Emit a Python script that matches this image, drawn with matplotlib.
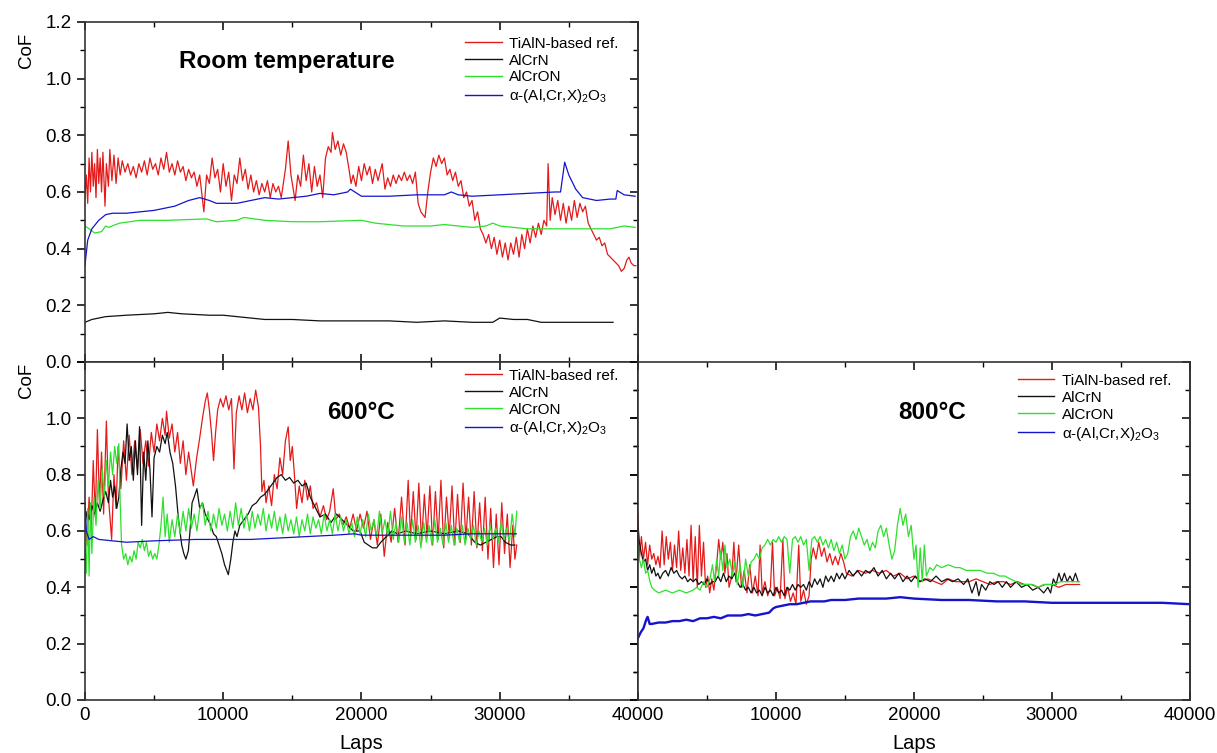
import matplotlib
matplotlib.use("Agg")
import matplotlib.pyplot as plt
import numpy as np
from matplotlib.ticker import MultipleLocator

plt.rcParams['font.family'] = ['Liberation Sans', 'DejaVu Sans']
plt.rcParams['mathtext.fontset'] = 'custom'
plt.rcParams['mathtext.rm'] = 'Liberation Sans'
plt.rcParams['mathtext.it'] = 'Liberation Sans:italic'

labels = ['TiAlN-based ref.', 'AlCrN', 'AlCrON', r'α-(Al,Cr,X)$_2$O$_3$']
colors = ['#e41a1a', '#111111', '#2ee02e', '#1414cc']

# ---- room temperature (laps, CoF) ----
rt_tialn = [(0, .58), (100, .66), (200, .56), (300, .72), (400, .60), (500, .74), (600, .62), (700, .70),
            (800, .58), (900, .75), (1000, .63), (1100, .72), (1200, .60), (1300, .74), (1450, .55), (1550, .70),
            (1700, .62), (1800, .75), (1950, .64), (2100, .73), (2250, .63), (2400, .72), (2550, .66), (2700, .71),
            (2900, .67), (3100, .70), (3300, .66), (3500, .69), (3700, .65), (3900, .70), (4100, .67), (4300, .71),
            (4500, .66), (4700, .72), (4900, .68), (5100, .70), (5300, .66), (5500, .72), (5700, .68), (5900, .74),
            (6100, .67), (6300, .70), (6500, .66), (6700, .71), (6900, .67), (7100, .69), (7300, .64), (7500, .68),
            (7700, .65), (7900, .67), (8100, .62), (8300, .66), (8600, .53), (8800, .66), (9000, .63), (9200, .72),
            (9400, .65), (9600, .68), (9800, .60), (10000, .70), (10200, .62), (10400, .67), (10600, .57), (10800, .66),
            (11000, .63), (11200, .72), (11400, .64), (11600, .68), (11800, .61), (12000, .66), (12200, .60), (12400, .64),
            (12600, .59), (12800, .63), (13000, .60), (13200, .64), (13400, .58), (13600, .63), (13800, .60), (14000, .62),
            (14200, .58), (14500, .68), (14700, .78), (14900, .66), (15200, .57), (15400, .66), (15600, .62), (15800, .73),
            (16000, .64), (16200, .70), (16400, .60), (16600, .69), (16800, .62), (17000, .66), (17200, .58), (17400, .72),
            (17600, .76), (17800, .74), (17900, .81), (18100, .75), (18300, .78), (18500, .73), (18700, .77), (18900, .74),
            (19100, .68), (19250, .63), (19400, .66), (19600, .62), (19800, .69), (20000, .64), (20200, .70), (20400, .66),
            (20600, .69), (20800, .63), (21000, .68), (21200, .64), (21500, .70), (21700, .61), (21900, .65), (22100, .62),
            (22300, .66), (22500, .63), (22700, .66), (22900, .64), (23100, .67), (23300, .64), (23500, .66), (23700, .63),
            (23900, .67), (24100, .56), (24300, .53), (24600, .51), (24800, .60), (25000, .67), (25200, .72), (25400, .69),
            (25600, .73), (25800, .70), (26000, .72), (26200, .66), (26400, .68), (26600, .64), (26800, .67), (27000, .62),
            (27200, .64), (27400, .58), (27600, .60), (27800, .55), (28000, .57), (28200, .50), (28400, .53), (28600, .47),
            (28800, .45), (29000, .42), (29200, .45), (29400, .40), (29600, .44), (29800, .38), (30000, .43), (30200, .37),
            (30400, .42), (30600, .36), (30800, .42), (31000, .38), (31200, .44), (31400, .37), (31600, .45), (31800, .40),
            (32000, .47), (32200, .42), (32400, .48), (32600, .44), (32800, .49), (33000, .45), (33200, .50), (33400, .48),
            (33500, .70), (33650, .50), (33800, .58), (34000, .52), (34200, .57), (34400, .50), (34600, .56), (34800, .49),
            (35000, .55), (35200, .50), (35400, .57), (35600, .51), (35800, .56), (36000, .53), (36200, .55), (36400, .49),
            (36600, .47), (36800, .45), (37000, .43), (37200, .44), (37400, .41), (37600, .42), (37800, .38), (38000, .37),
            (38200, .36), (38400, .35), (38600, .34), (38800, .32), (39000, .33), (39200, .36), (39350, .37), (39500, .35),
            (39700, .34), (39850, .34)]
rt_alcrn = [(0, .14), (500, .15), (1500, .16), (3000, .165), (5000, .17), (6000, .175), (7000, .17), (9000, .165),
            (10000, .165), (11000, .16), (12000, .155), (13000, .15), (15000, .15), (17000, .145), (20000, .145),
            (22000, .145), (24000, .14), (26000, .145), (28000, .14), (29500, .14), (30000, .155), (31000, .15),
            (32000, .15), (33000, .14), (35000, .14), (38200, .14)]
rt_alcron = [(0, .48), (300, .47), (700, .455), (1200, .46), (1500, .48), (1700, .475), (2500, .49), (4000, .50),
             (6000, .50), (8800, .505), (9500, .495), (11000, .50), (11500, .51), (13000, .50), (15000, .495),
             (17000, .495), (20000, .50), (21000, .49), (23000, .48), (25000, .48), (26000, .485), (28000, .475),
             (29000, .48), (29500, .49), (30000, .48), (32000, .47), (35000, .47), (37000, .47), (38000, .47),
             (39000, .48), (39800, .475)]
rt_oxide = [(0, .34), (200, .43), (500, .47), (1000, .50), (1500, .52), (2000, .525), (3000, .525), (4000, .53),
            (5000, .535), (6500, .55), (7500, .57), (8300, .58), (9000, .57), (9500, .56), (11000, .56), (12000, .57),
            (13000, .58), (14000, .575), (15000, .58), (16000, .585), (17000, .595), (18000, .59), (19000, .60),
            (19200, .61), (20000, .585), (22000, .585), (24000, .59), (26000, .59), (26500, .60), (27000, .59),
            (28000, .585), (30000, .59), (32000, .595), (34000, .60), (34400, .60), (34700, .705), (35000, .66),
            (35500, .61), (36000, .58), (37000, .57), (38000, .575), (38400, .575), (38500, .605), (39000, .59),
            (39800, .585)]

# ---- 600 °C ----
t6_tialn = [(0, .65), (150, .55), (300, .72), (450, .60), (600, .85), (750, .65), (900, .96), (1050, .70),
            (1200, .88), (1350, .66), (1550, .99), (1700, .72), (1930, .57), (2100, .80), (2250, .68), (2400, .90),
            (2600, .75), (2800, .92), (3000, .78), (3200, .94), (3400, .80), (3600, .92), (3800, .82), (4000, .96),
            (4200, .84), (4400, .92), (4600, .83), (4800, .95), (5000, .88), (5200, .98), (5400, .92), (5600, 1.00),
            (5800, .94), (5900, 1.025), (6100, .93), (6300, .98), (6500, .88), (6700, .95), (6900, .84), (7100, .92),
            (7300, .80), (7500, .88), (7840, .76), (8080, .86), (8300, .93), (8500, 1.00), (8700, 1.06), (8850, 1.09),
            (9000, 1.03), (9150, .95), (9300, .85), (9450, .95), (9600, 1.03), (9800, 1.07), (10000, 1.04),
            (10200, 1.08), (10400, 1.03), (10600, 1.07), (10780, .82), (10950, 1.02), (11150, 1.08), (11350, 1.03),
            (11550, 1.09), (11750, 1.02), (11950, 1.07), (12150, 1.03), (12350, 1.10), (12550, 1.04), (12700, .90),
            (12800, .74), (12950, .78), (13100, .70), (13300, .76), (13500, .69), (13700, .80), (13900, .75),
            (14100, .86), (14300, .80), (14500, .92), (14700, .97), (14850, .85), (15000, .90), (15150, .80),
            (15310, .68), (15500, .76), (15700, .70), (15900, .78), (16100, .71), (16300, .76), (16500, .68),
            (16750, .70), (17000, .65), (17250, .69), (17480, .64), (17700, .67), (17960, .75), (18150, .64),
            (18400, .66), (18650, .62), (18900, .65), (19150, .61), (19400, .66), (19650, .60), (19900, .66),
            (20150, .61), (20400, .67), (20650, .57), (20900, .64), (21150, .55), (21400, .66), (21650, .51),
            (21900, .63), (22150, .56), (22400, .68), (22650, .56), (22900, .72), (23150, .55), (23380, .78),
            (23550, .58), (23750, .74), (23950, .57), (24150, .77), (24350, .56), (24550, .73), (24750, .58),
            (24950, .76), (25150, .55), (25350, .74), (25550, .57), (25750, .78), (25950, .54), (26150, .72),
            (26350, .58), (26550, .76), (26750, .55), (26950, .73), (27150, .56), (27350, .77), (27550, .57),
            (27750, .72), (27950, .55), (28150, .74), (28350, .54), (28550, .70), (28750, .53), (28950, .72),
            (29150, .50), (29350, .68), (29550, .47), (29750, .66), (29950, .48), (30150, .70), (30350, .52),
            (30550, .66), (30750, .47), (30950, .62), (31100, .50), (31230, .55)]
t6_alcrn = [(0, .62), (150, .67), (300, .64), (500, .69), (700, .66), (900, .70), (1100, .67), (1300, .71),
            (1500, .74), (1700, .70), (1850, .78), (2000, .72), (2150, .76), (2300, .68), (2450, .72), (2600, .82),
            (2750, .88), (2900, .84), (3050, .98), (3200, .85), (3350, .90), (3500, .78), (3650, .92), (3800, .80),
            (3950, .97), (4100, .62), (4250, .88), (4400, .78), (4550, .92), (4700, .82), (4850, .65), (5000, .86),
            (5200, .90), (5400, .88), (5600, .94), (5800, .91), (5950, .95), (6150, .88), (6350, .84), (6550, .76),
            (6750, .65), (6870, .60), (7000, .55), (7150, .52), (7300, .50), (7480, .53), (7600, .60), (7750, .70),
            (7900, .72), (8100, .75), (8300, .68), (8500, .70), (8700, .66), (8900, .64), (9100, .62), (9300, .59),
            (9500, .58), (9700, .55), (9900, .52), (10100, .48), (10370, .445), (10550, .50), (10700, .56),
            (10850, .60), (11000, .58), (11200, .62), (11500, .64), (11800, .66), (12100, .69), (12400, .70),
            (12700, .72), (13000, .73), (13300, .75), (13600, .77), (13900, .79), (14200, .80), (14500, .78),
            (14800, .79), (15100, .77), (15400, .78), (15700, .76), (16000, .77), (16300, .72), (16600, .69),
            (17000, .65), (17400, .66), (17800, .63), (18200, .66), (18600, .64), (19000, .62), (19400, .60),
            (19900, .60), (20200, .56), (20500, .55), (20800, .54), (21100, .54), (21400, .56), (21800, .58),
            (22200, .60), (22600, .59), (23200, .60), (24000, .59), (25000, .60), (26000, .59), (27000, .60),
            (27700, .59), (28200, .56), (28600, .55), (29000, .56), (29400, .57), (29800, .58), (30100, .58),
            (30400, .56), (30800, .55), (31100, .55)]
t6_alcron = [(0, .55), (100, .45), (200, .68), (300, .44), (400, .70), (500, .52), (650, .72), (800, .62),
             (950, .78), (1100, .68), (1250, .82), (1400, .72), (1550, .85), (1700, .76), (1850, .88), (2000, .80),
             (2150, .90), (2300, .84), (2450, .91), (2550, .70), (2650, .55), (2800, .50), (2950, .52), (3100, .48),
             (3250, .51), (3400, .49), (3550, .53), (3700, .50), (3850, .56), (4000, .54), (4150, .57), (4300, .53),
             (4450, .56), (4600, .51), (4750, .53), (4900, .50), (5050, .52), (5200, .50), (5350, .55), (5500, .62),
             (5650, .72), (5800, .58), (5950, .66), (6100, .56), (6300, .64), (6500, .58), (6700, .66), (6900, .59),
             (7100, .67), (7300, .60), (7500, .68), (7700, .61), (7900, .66), (8100, .60), (8300, .68), (8500, .70),
             (8700, .62), (8900, .67), (9100, .60), (9300, .66), (9500, .61), (9700, .68), (9900, .62), (10100, .66),
             (10300, .60), (10500, .67), (10700, .61), (10900, .70), (11100, .62), (11300, .68), (11500, .61),
             (11700, .66), (11900, .60), (12100, .67), (12300, .61), (12500, .66), (12700, .62), (12900, .68),
             (13100, .60), (13300, .66), (13500, .61), (13700, .67), (13900, .60), (14100, .65), (14300, .59),
             (14500, .66), (14700, .60), (14900, .64), (15100, .59), (15300, .65), (15500, .58), (15700, .64),
             (15900, .60), (16100, .66), (16300, .59), (16500, .65), (16700, .61), (16900, .64), (17100, .59),
             (17300, .66), (17500, .60), (17700, .64), (17900, .59), (18100, .66), (18300, .60), (18500, .65),
             (18700, .60), (18900, .64), (19100, .59), (19300, .63), (19500, .58), (19700, .65), (19900, .59),
             (20100, .64), (20300, .58), (20500, .66), (20700, .60), (20900, .64), (21100, .58), (21300, .67),
             (21500, .59), (21700, .64), (21900, .58), (22100, .67), (22300, .57), (22500, .63), (22700, .56),
             (22900, .65), (23100, .56), (23300, .63), (23500, .55), (23700, .64), (23900, .56), (24100, .62),
             (24300, .54), (24500, .63), (24700, .56), (24900, .62), (25100, .55), (25300, .64), (25500, .56),
             (25700, .61), (25900, .55), (26100, .63), (26300, .56), (26500, .62), (26700, .55), (26900, .61),
             (27100, .56), (27300, .62), (27500, .55), (27700, .61), (27900, .57), (28100, .62), (28300, .55),
             (28500, .60), (28700, .56), (28900, .61), (29100, .55), (29300, .62), (29500, .57), (29700, .61),
             (29900, .56), (30100, .63), (30300, .57), (30500, .61), (30700, .56), (30900, .66), (31100, .58),
             (31230, .67)]
t6_oxide = [(0, .70), (100, .60), (300, .57), (600, .58), (1000, .57), (3000, .56), (5000, .565), (8000, .57),
            (10000, .57), (12000, .57), (14000, .575), (16000, .58), (18000, .585), (19500, .59), (20000, .585),
            (22000, .585), (24000, .585), (26000, .585), (28000, .59), (30000, .59), (31200, .59)]

# ---- 800 °C ----
t8_tialn = [(0, .66), (100, .50), (250, .58), (400, .50), (550, .56), (700, .48), (850, .55), (1000, .50),
            (1150, .52), (1300, .48), (1450, .51), (1600, .47), (1750, .60), (1900, .48), (2050, .58), (2200, .50),
            (2350, .56), (2500, .46), (2650, .55), (2800, .47), (2950, .60), (3100, .46), (3250, .54), (3400, .45),
            (3550, .57), (3700, .44), (3850, .62), (4000, .42), (4150, .58), (4300, .40), (4450, .62), (4600, .44),
            (4750, .56), (4900, .40), (5050, .44), (5200, .38), (5350, .43), (5500, .39), (5700, .48), (5850, .57),
            (6000, .50), (6150, .56), (6300, .45), (6450, .52), (6600, .40), (6800, .44), (6950, .56), (7100, .42),
            (7300, .55), (7500, .40), (7700, .46), (7900, .38), (8100, .48), (8300, .38), (8500, .44), (8700, .37),
            (8850, .55), (9000, .38), (9200, .42), (9400, .37), (9600, .40), (9750, .56), (9900, .37), (10100, .40),
            (10300, .36), (10500, .57), (10650, .36), (10850, .40), (11050, .35), (11250, .38), (11450, .34),
            (11650, .55), (11800, .35), (12000, .39), (12200, .34), (12400, .37), (12550, .50), (12700, .54),
            (12900, .50), (13100, .56), (13300, .51), (13500, .54), (13700, .49), (13900, .52), (14100, .48),
            (14300, .51), (14500, .48), (14700, .52), (14900, .49), (15100, .45), (15500, .44), (16000, .46),
            (16500, .45), (17000, .46), (17500, .45), (18000, .46), (18500, .44), (19000, .45), (19500, .43),
            (20000, .44), (20500, .42), (21000, .43), (21500, .42), (22000, .41), (22500, .43), (23000, .42),
            (23500, .42), (24000, .42), (24500, .43), (25000, .42), (25500, .41), (26000, .42), (26500, .42),
            (27000, .41), (27500, .42), (28000, .41), (28500, .41), (29000, .40), (29500, .41), (30000, .41),
            (30500, .40), (31000, .41), (31500, .41), (32000, .41)]
t8_alcrn = [(0, .62), (100, .56), (250, .52), (400, .49), (550, .50), (700, .46), (850, .48), (1000, .45),
            (1150, .47), (1300, .44), (1450, .45), (1600, .43), (1800, .45), (2000, .46), (2200, .44), (2400, .47),
            (2600, .45), (2800, .46), (3000, .44), (3200, .43), (3400, .44), (3600, .42), (3800, .43), (4000, .42),
            (4200, .43), (4400, .41), (4600, .42), (4800, .41), (5000, .43), (5200, .41), (5400, .42), (5600, .42),
            (5800, .44), (6000, .42), (6200, .45), (6400, .42), (6600, .44), (6800, .43), (7000, .45), (7200, .42),
            (7400, .40), (7600, .41), (7800, .39), (8000, .40), (8200, .38), (8400, .40), (8600, .38), (8800, .39),
            (9000, .37), (9200, .40), (9400, .38), (9600, .39), (9800, .37), (10000, .40), (10200, .38),
            (10400, .39), (10600, .37), (10800, .40), (11000, .39), (11200, .41), (11400, .39), (11600, .41),
            (11800, .40), (12000, .41), (12200, .39), (12400, .42), (12600, .40), (12800, .43), (13000, .41),
            (13200, .43), (13400, .40), (13600, .44), (13800, .42), (14000, .44), (14200, .42), (14400, .45),
            (14600, .43), (14800, .45), (15000, .43), (15300, .46), (15600, .44), (15900, .46), (16200, .44),
            (16500, .46), (16800, .45), (17100, .47), (17400, .44), (17700, .46), (18000, .43), (18300, .45),
            (18600, .43), (18900, .45), (19200, .42), (19500, .44), (19800, .42), (20100, .44), (20400, .42),
            (20800, .43), (21200, .42), (21600, .44), (22000, .42), (22400, .43), (22800, .42), (23200, .43),
            (23600, .41), (23900, .43), (24200, .38), (24500, .42), (24700, .37), (24900, .41), (25200, .39),
            (25500, .42), (25800, .41), (26100, .42), (26400, .40), (26700, .42), (27000, .40), (27400, .42),
            (27800, .40), (28200, .41), (28600, .39), (29000, .40), (29400, .38), (29700, .40), (29900, .38),
            (30100, .43), (30300, .41), (30500, .45), (30700, .42), (30900, .45), (31100, .42), (31300, .44),
            (31500, .42), (31700, .45), (31900, .42)]
t8_alcron = [(0, .55), (100, .50), (250, .47), (400, .50), (550, .45), (700, .46), (870, .42), (1000, .40),
             (1200, .39), (1500, .38), (2000, .39), (2500, .38), (3000, .39), (3500, .38), (4000, .39), (4250, .40),
             (4500, .39), (4750, .42), (5000, .40), (5220, .43), (5400, .48), (5550, .42), (5700, .50), (5850, .44),
             (6000, .53), (6150, .46), (6300, .55), (6450, .47), (6660, .50), (6850, .44), (7000, .49), (7200, .41),
             (7400, .48), (7600, .40), (7800, .50), (8000, .44), (8200, .49), (8400, .50), (8600, .52), (8800, .50),
             (9000, .54), (9200, .55), (9400, .57), (9600, .55), (9800, .57), (10000, .56), (10200, .58),
             (10400, .56), (10600, .58), (10800, .57), (11000, .45), (11200, .57), (11400, .58), (11600, .56),
             (11800, .58), (12000, .55), (12200, .57), (12400, .46), (12600, .57), (12800, .58), (13000, .56),
             (13200, .58), (13400, .55), (13600, .57), (13800, .54), (14000, .57), (14200, .53), (14400, .56),
             (14600, .52), (14800, .55), (15000, .50), (15200, .52), (15400, .58), (15600, .60), (15800, .57),
             (16000, .61), (16200, .58), (16400, .55), (16600, .57), (16800, .53), (17000, .56), (17200, .54),
             (17400, .60), (17600, .62), (17800, .58), (18000, .61), (18200, .55), (18400, .50), (18600, .53),
             (18800, .62), (19000, .68), (19200, .62), (19400, .66), (19600, .58), (19800, .62), (20000, .50),
             (20150, .55), (20300, .40), (20450, .54), (20600, .42), (20750, .55), (20900, .44), (21150, .47),
             (21400, .46), (21640, .48), (22000, .47), (22500, .48), (23000, .47), (23330, .47), (23800, .46),
             (24300, .46), (24800, .46), (25300, .45), (25750, .45), (26200, .44), (26600, .44), (26960, .43),
             (27400, .42), (27800, .41), (28200, .41), (28600, .41), (29000, .40), (29400, .41), (29800, .41),
             (30200, .41), (30600, .42), (31000, .42), (31500, .42), (32000, .42)]
t8_oxide = [(0, .22), (200, .24), (400, .255), (600, .285), (700, .295), (850, .27), (1000, .27), (1500, .275),
            (2000, .275), (2500, .28), (3000, .28), (3500, .285), (4000, .28), (4500, .29), (5000, .29),
            (5500, .295), (6000, .29), (6500, .30), (7000, .30), (7500, .30), (8000, .305), (8500, .30),
            (9000, .305), (9500, .31), (9800, .325), (10000, .33), (10500, .335), (11000, .34), (11500, .34),
            (12000, .345), (12500, .35), (13000, .35), (13500, .35), (14000, .355), (15000, .355), (16000, .36),
            (17000, .36), (18000, .36), (19000, .365), (20000, .36), (22000, .355), (24000, .355), (26000, .35),
            (28000, .35), (30000, .345), (32000, .345), (34000, .345), (36000, .345), (38000, .345), (40000, .34)]

panels = [
    ('Room temperature', [rt_tialn, rt_alcrn, rt_alcron, rt_oxide]),
    ('600°C', [t6_tialn, t6_alcrn, t6_alcron, t6_oxide]),
    ('800°C', [t8_tialn, t8_alcrn, t8_alcron, t8_oxide]),
]


def style_axes(ax, xlabels, ylabels):
    ax.set_xlim(0, 40000)
    ax.set_ylim(0, 1.2)
    ax.xaxis.set_major_locator(MultipleLocator(10000))
    ax.xaxis.set_minor_locator(MultipleLocator(5000))
    ax.yaxis.set_major_locator(MultipleLocator(0.2))
    ax.yaxis.set_minor_locator(MultipleLocator(0.1))
    ax.tick_params(axis='x', which='both', direction='in', top=True, bottom=True,
                   labelbottom=xlabels, labelsize=13.5, pad=5)
    ax.tick_params(axis='y', which='both', direction='out', left=True, right=False,
                   labelleft=ylabels, labelsize=13.5)
    ax.tick_params(which='major', length=6, width=1.1)
    ax.tick_params(which='minor', length=3.5, width=1.0)
    sec = ax.secondary_yaxis('right')
    sec.yaxis.set_major_locator(MultipleLocator(0.2))
    sec.yaxis.set_minor_locator(MultipleLocator(0.1))
    sec.tick_params(which='both', direction='in', labelright=False)
    sec.tick_params(which='major', length=6, width=1.1)
    sec.tick_params(which='minor', length=3.5, width=1.0)
    for s in ax.spines.values():
        s.set_linewidth(1.2)
        s.set_color('#333333')
    sec.spines['right'].set_linewidth(1.2)
    sec.spines['right'].set_color('#333333')


fig = plt.figure(figsize=(12.17, 7.53), dpi=100)
ax_rt = fig.add_axes([0.0698, 0.5193, 0.4544, 0.4515])
ax_6 = fig.add_axes([0.0698, 0.0704, 0.4544, 0.4489])
ax_8 = fig.add_axes([0.5242, 0.0704, 0.4536, 0.4489])

axes = [ax_rt, ax_6, ax_8]
title_pos = [(0.365, 0.885), (0.50, 0.85), (0.533, 0.85)]
legend_pos = [(0.687, 0.957), (0.687, 0.98), (0.688, 0.965)]

for ax, (title, series), tpos, lpos in zip(axes, panels, title_pos, legend_pos):
    handles = []
    for data, c, lab in zip(series, colors, labels):
        arr = np.array(data)
        lw = 1.7 if (ax is ax_8 and lab == labels[3]) else 0.9
        h, = ax.plot(arr[:, 0], arr[:, 1], color=c, lw=lw, label=lab)
        handles.append(h)
    ax.text(tpos[0], tpos[1], title, transform=ax.transAxes, ha='center', va='center',
            fontsize=17.5, fontweight='bold')
    leg = ax.legend(handles=handles, loc='upper left', bbox_to_anchor=lpos, frameon=False,
                    fontsize=11, handlelength=2.4, handletextpad=0.5, labelspacing=0.19,
                    borderpad=0, borderaxespad=0)
    for lh in leg.get_lines():
        lh.set_linewidth(1.0)

style_axes(ax_rt, False, True)
style_axes(ax_6, True, True)
style_axes(ax_8, True, False)

ax_6.set_yticks([0, 0.2, 0.4, 0.6, 0.8, 1.0, 1.2])
ax_6.set_yticklabels(['0.0', '0.2', '0.4', '0.6', '0.8', '1.0', ''])
ax_8.set_xticks([0, 10000, 20000, 30000, 40000])
ax_8.set_xticklabels(['', '10000', '20000', '30000', '40000'])

fig.text(0.022, 0.933, 'CoF', rotation=90, ha='center', va='center', fontsize=13.5)
fig.text(0.022, 0.495, 'CoF', rotation=90, ha='center', va='center', fontsize=13.5)
fig.text(0.297, 0.013, 'Laps', ha='center', va='center', fontsize=14.5)
fig.text(0.751, 0.013, 'Laps', ha='center', va='center', fontsize=14.5)

fig.savefig('out.png', dpi=100)
